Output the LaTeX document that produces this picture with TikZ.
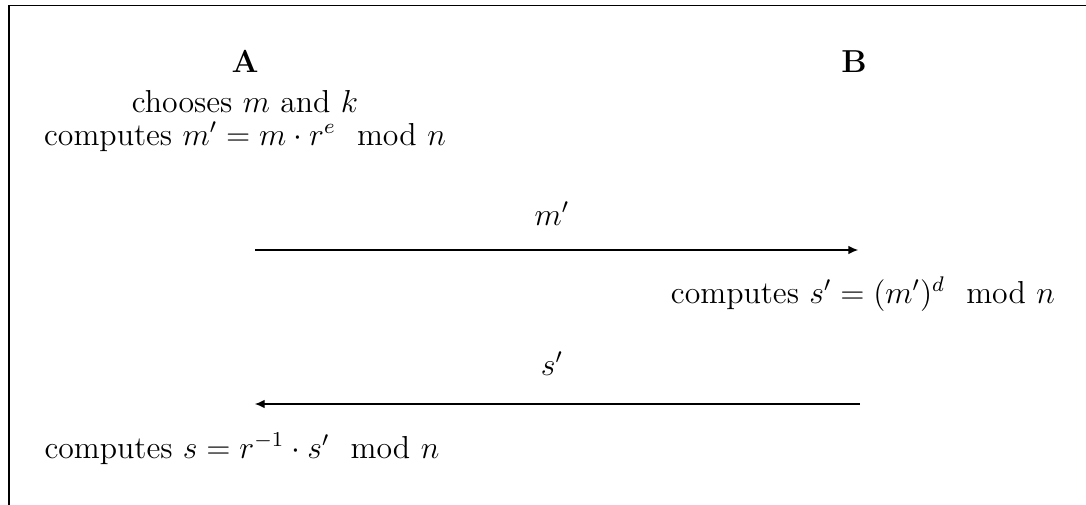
\documentclass[tikz,border=0pt]{standalone}
\usepackage{amsmath}
\usetikzlibrary{arrows.meta}
\begin{document}
\begin{tikzpicture}[x=0.01327cm,y=-0.01327cm,
  font=\fontsize{12}{14.4}\selectfont,
  lbl/.style={inner sep=0pt,anchor=base},
  msg/.style={line width=0.4pt,-{Latex[length=3.6pt,width=3.2pt]}}]
\useasboundingbox (0,0) rectangle (1086,504);
\begin{scope}
\clip (0,0) rectangle (1086,504);
\draw[line width=0.6pt] (9,5.5) rectangle (1200,600);
\end{scope}
\node[lbl] (A) at (245,72) {\textbf{A}};
\node[lbl] (B) at (854,72) {\textbf{B}};
\node[lbl] (a1) at (245,112) {chooses $m$ and $k$};
\node[lbl] (a2) at (245,145) {computes $m' = m\cdot r^e \mod n$};
\coordinate (p1) at (255,250);
\coordinate (q1) at (858,250);
\draw[msg] (p1) -- (q1);
\node[lbl] (l1) at (552,225) {$m'$};
\node[lbl] (b1) at (863,303) {computes $s' = (m')^d \mod n$};
\coordinate (p2) at (860,404);
\coordinate (q2) at (255,404);
\draw[msg] (p2) -- (q2);
\node[lbl] (l2) at (552,375) {$s'$};
\node[lbl] (a3) at (242,458) {computes $s = r^{-1}\cdot s' \mod n$};
\end{tikzpicture}
\end{document}
